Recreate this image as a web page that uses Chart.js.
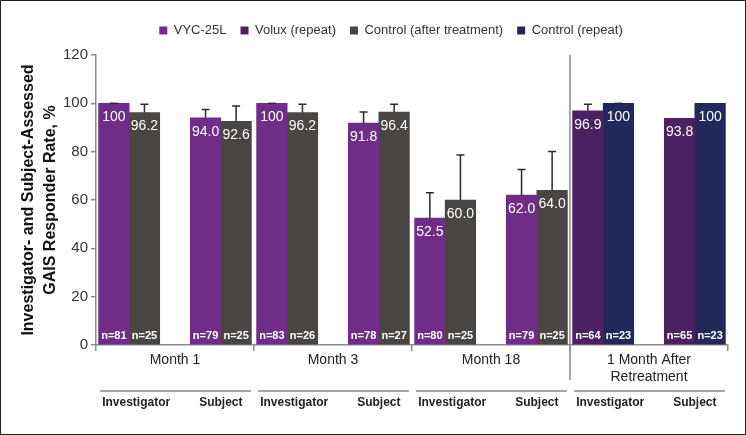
<!DOCTYPE html>
<html>
<head>
<meta charset="utf-8">
<script src="https://cdn.jsdelivr.net/npm/chart.js@4.4.1/dist/chart.umd.min.js"></script>
<style>
  html, body { margin: 0; padding: 0; background: #fff; }
  #myChart { display: block; outline: 1px solid #222; outline-offset: -1px; }
</style>
</head>
<body>
<canvas id="myChart" width="746" height="435"></canvas>
<script>
"use strict";

const groupLabels = ["Month 1", "Month 3", "Month 18", ["1 Month After", "Retreatment"]];
const raterLabels = ["Investigator", "Subject"];
const yTicks = [0, 20, 40, 60, 80, 100, 120];

// Month 1, Month 3, Month 18 (Investigator, Subject each)
const vycValues = [100, 94.0, 100, 91.8, 52.5, 62.0];
const vycUpper = [100, 97.5, 100, 96.4, 63.0, 72.6];
const vycN = [81, 79, 83, 78, 80, 79];
const controlValues = [96.2, 92.6, 96.2, 96.4, 60.0, 64.0];
const controlUpper = [99.6, 98.9, 99.6, 99.6, 78.6, 80.1];
const controlN = [25, 25, 26, 27, 25, 25];

// 1 Month After Retreatment (Investigator, Subject)
const voluxValues = [96.9, 93.8];
const voluxUpper = [99.6, null];
const voluxN = [64, 65];
const controlRepeatValues = [100, 100];
const controlRepeatUpper = [100, null];
const controlRepeatN = [23, 23];

// each group = 5 bar slots (bar, bar, gap, bar, bar) plus a thin gap between groups
const GROUP_SPAN = 5.17;
const EDGE = 0.085;
const FONT = '"Liberation Sans", Arial, sans-serif';

function barX(group, rater, slot) {
  return group * GROUP_SPAN + EDGE + rater * 3 + slot + 0.5;
}

function toPoints(values, upper, counts, firstGroup, slot) {
  return values.map((v, i) => ({
    x: barX(firstGroup + Math.floor(i / 2), i % 2, slot),
    y: v,
    hi: upper[i],
    n: counts[i],
  }));
}

// error bars, value labels and n= labels
const barExtras = {
  id: "barExtras",
  afterDatasetsDraw(chart) {
    const ctx = chart.ctx;
    const y = chart.scales.y;
    ctx.save();
    chart.data.datasets.forEach((ds, di) => {
      chart.getDatasetMeta(di).data.forEach((bar, i) => {
        const pt = ds.data[i];
        if (pt.hi != null) {
          const top = y.getPixelForValue(pt.hi);
          ctx.strokeStyle = "#2b2b2b";
          ctx.lineWidth = 1.5;
          ctx.beginPath();
          ctx.moveTo(bar.x, bar.y);
          ctx.lineTo(bar.x, top);
          ctx.moveTo(bar.x - 4, top);
          ctx.lineTo(bar.x + 4, top);
          ctx.stroke();
        }
        ctx.fillStyle = "#fff";
        ctx.textAlign = "center";
        ctx.textBaseline = "middle";
        ctx.font = "14px " + FONT;
        ctx.fillText(pt.y === 100 ? "100" : pt.y.toFixed(1), bar.x, bar.y + 14);
        ctx.font = "bold 11px " + FONT;
        ctx.fillText("n=" + pt.n, bar.x, bar.base - 8);
      });
    });
    ctx.restore();
  },
};

// group labels, separator, rater labels under the x axis
const axisDecor = {
  id: "axisDecor",
  afterDraw(chart) {
    const { ctx, chartArea } = chart;
    const x = chart.scales.x;
    const base = chartArea.bottom;
    ctx.save();
    ctx.textAlign = "center";
    ctx.textBaseline = "middle";
    groupLabels.forEach((label, g) => {
      const left = x.getPixelForValue(g * GROUP_SPAN);
      const right = x.getPixelForValue((g + 1) * GROUP_SPAN);
      ctx.fillStyle = "#222";
      ctx.font = "14px " + FONT;
      [].concat(label).forEach((t, k) => {
        ctx.fillText(t, (left + right) / 2, base + 15 + k * 17);
      });

      ctx.strokeStyle = "#8a8a8a";
      ctx.lineWidth = 1.5;
      ctx.beginPath();
      ctx.moveTo(left + 4, base + 46);
      ctx.lineTo(right - 3, base + 46);
      ctx.stroke();

      ctx.font = "bold 12px " + FONT;
      raterLabels.forEach((r, k) => {
        const cx = x.getPixelForValue(barX(g, k, 0.5)) + (k === 0 ? 7 : 0);
        ctx.fillText(r, cx, base + 58);
      });
    });

    const sep = x.getPixelForValue(3 * GROUP_SPAN);
    ctx.strokeStyle = "#8a8a8a";
    ctx.lineWidth = 1.5;
    ctx.beginPath();
    ctx.moveTo(sep, chartArea.top);
    ctx.lineTo(sep, base + 35);
    ctx.stroke();
    ctx.restore();
  },
};

// legend: fixed box height, nudged right like the original
const legendPlace = {
  id: "legendPlace",
  beforeInit(chart) {
    const fit = chart.legend.fit;
    chart.legend.fit = function () {
      fit.call(this);
      this.height = 45;
    };
  },
  afterLayout(chart) {
    chart.legend.left += 25;
    chart.legend.right += 25;
  },
};

Chart.defaults.font.family = FONT;

const ctx = document.getElementById("myChart").getContext("2d");
const myChart = new Chart(ctx, {
  type: "bar",
  data: {
    datasets: [
      {
        label: "VYC-25L",
        data: toPoints(vycValues, vycUpper, vycN, 0, 0),
        backgroundColor: "#6F2D87",
      },
      {
        label: "Volux (repeat)",
        data: toPoints(voluxValues, voluxUpper, voluxN, 3, 0),
        backgroundColor: "#4B2162",
      },
      {
        label: "Control (after treatment)",
        data: toPoints(controlValues, controlUpper, controlN, 0, 1),
        backgroundColor: "#484542",
      },
      {
        label: "Control (repeat)",
        data: toPoints(controlRepeatValues, controlRepeatUpper, controlRepeatN, 3, 1),
        backgroundColor: "#23285A",
      },
    ],
  },
  options: {
    responsive: false,
    animation: false,
    barPercentage: 1,
    categoryPercentage: 1,
    layout: { padding: { top: 10, left: 4, right: 18, bottom: 0 } },
    plugins: {
      tooltip: { enabled: false },
      legend: {
        position: "top",
        labels: {
          boxWidth: 8,
          boxHeight: 8,
          padding: 14,
          color: "#333",
          font: { size: 13 },
        },
      },
    },
    scales: {
      x: {
        type: "linear",
        min: 0,
        max: 4 * GROUP_SPAN,
        offset: false,
        stacked: true,
        afterBuildTicks: (s) => {
          s.ticks = [0, 1, 2, 3, 4].map((g) => ({ value: g * GROUP_SPAN }));
        },
        ticks: { display: false },
        grid: {
          offset: false,
          drawOnChartArea: false,
          drawTicks: true,
          tickLength: 6,
          color: "#8c8c8c",
          lineWidth: 1.5,
        },
        border: { color: "#8c8c8c", width: 1.5 },
        afterFit: (s) => {
          s.height = 90;
        },
      },
      y: {
        min: 0,
        max: 120,
        afterBuildTicks: (s) => {
          s.ticks = yTicks.map((v) => ({ value: v }));
        },
        ticks: { color: "#333", font: { size: 15 }, padding: 3 },
        grid: {
          drawOnChartArea: false,
          drawTicks: true,
          tickLength: 5,
          color: "#8c8c8c",
          lineWidth: 1.5,
        },
        border: { color: "#8c8c8c", width: 1.5 },
        title: {
          display: true,
          text: ["Investigator- and Subject-Assessed", "GAIS Responder Rate, %"],
          color: "#111",
          font: { size: 16, weight: "bold", lineHeight: 1.4 },
          padding: { top: 13, bottom: 0 },
        },
        afterFit: (s) => {
          s.width = 92;
        },
      },
    },
  },
  plugins: [barExtras, axisDecor, legendPlace],
});
</script>
</body>
</html>
